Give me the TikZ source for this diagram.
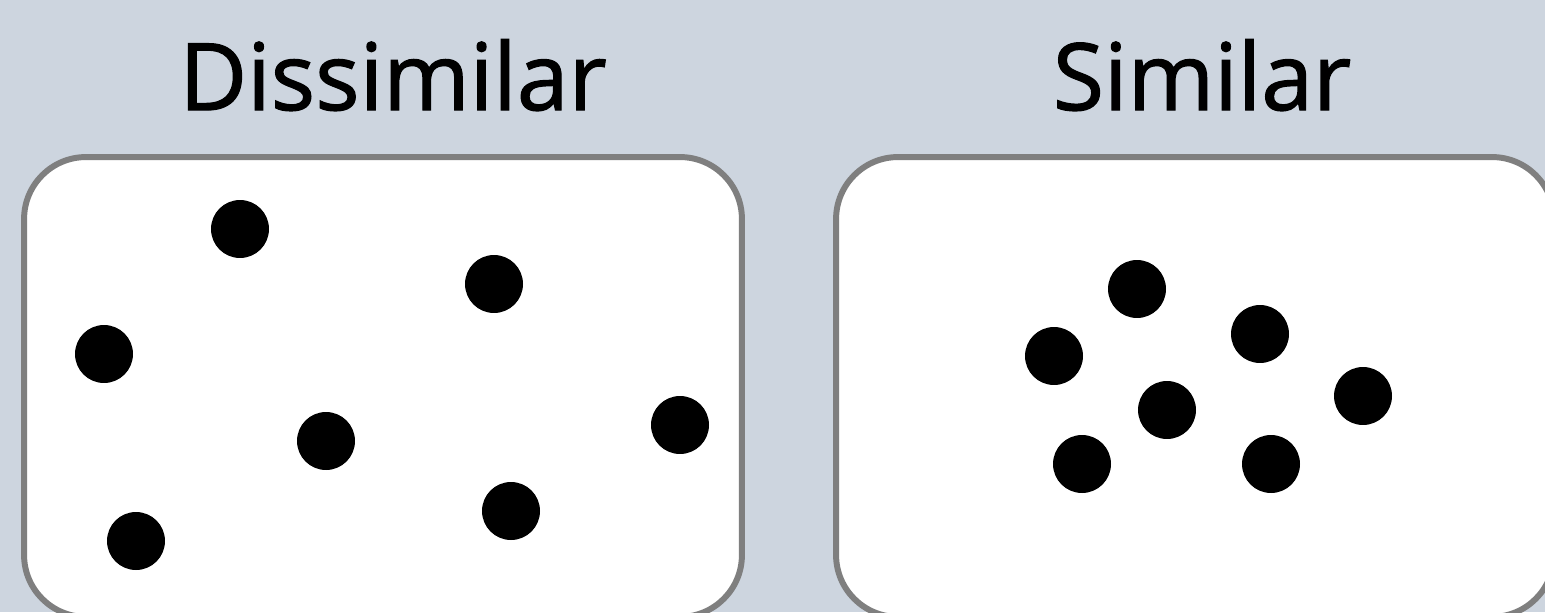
\documentclass[tikz,border=0pt]{standalone}
\usepackage{fontspec}
\setmainfont{Open Sans}
\newfontfamily\titlefont[FakeBold=1.3]{Open Sans}
\usetikzlibrary{positioning}
\definecolor{bgblue}{HTML}{CDD5DF}
\definecolor{framegray}{HTML}{7F7F7F}
\begin{document}
\begin{tikzpicture}[
      x=0.02cm, y=-0.02cm,
      panel/.style={
        rectangle, draw=framegray, fill=white, line width=3.4pt,
        rounded corners=1.24cm, minimum width=14.36cm, minimum height=9.2cm
      },
      dot/.style={circle, fill=black, minimum size=1.16cm, inner sep=0pt},
      title/.style={font=\titlefont\fontsize{53}{60}\selectfont, anchor=base, inner sep=0pt}
    ]
    \useasboundingbox (0,0) rectangle (1545,612);
    \fill[bgblue] (0,0) rectangle (1545,612);
    \clip (0,0) rectangle (1545,612);

    \node[panel] (dis) at (383,387) {};
    \node[panel] (sim) at (1195,387) {};

    \node[title] (disT) at ([xshift=0.2cm, yshift=0.88cm]dis.north) {Dissimilar};
    \node[title] (simT) at ([xshift=0.14cm, yshift=0.88cm]sim.north) {Similar};

    % scattered points
    \foreach \p [count=\i] in {(240,229), (494,284), (104,354), (326,441), (680,425), (511,511), (136,541)}
      \node[dot] (a\i) at \p {};
    % clustered points
    \foreach \p [count=\i] in {(1137,289), (1054,356), (1260,334), (1167,410), (1363,396), (1082,464), (1271,464)}
      \node[dot] (b\i) at \p {};
  \end{tikzpicture}
\end{document}
